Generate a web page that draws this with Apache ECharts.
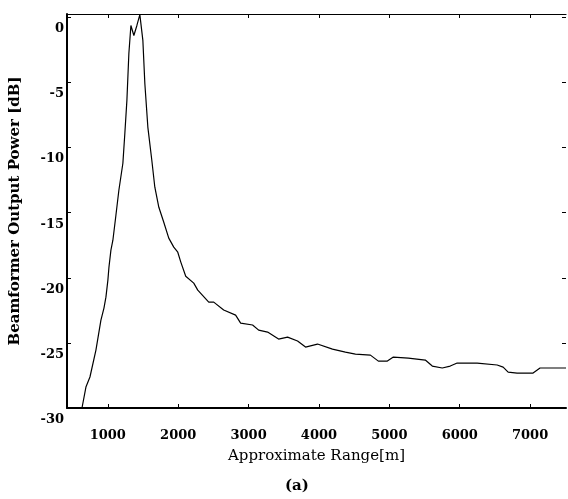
<!DOCTYPE html>
<html><head><meta charset="utf-8">
<script src="https://cdn.jsdelivr.net/npm/echarts@6/dist/echarts.min.js"></script>
<style>html,body{margin:0;padding:0;background:#fff}#c{width:568px;height:499px}</style>
</head><body><div id="c"></div>
<script>
const rangeM = [633,689,746,831,902,945,973,1001,1016,1044,1072,1115,1157,1214,1242,1271,1299,1328,1370,1413,1455,1498,1526,1569,1625,1668,1725,1795,1866,1937,1994,2037,2107,2221,2278,2434,2505,2646,2816,2887,3057,3143,3270,3426,3554,3696,3809,3979,4192,4376,4518,4731,4844,4972,5057,5270,5511,5610,5752,5865,5964,6248,6532,6617,6688,6815,7042,7141,7510];
const powerDb = [-30,-28.39,-27.62,-25.55,-23.25,-22.33,-21.49,-20.18,-19.19,-17.88,-17.12,-15.2,-13.28,-11.21,-8.91,-6.38,-2.78,-0.63,-1.4,-0.63,0.2,-1.78,-5.08,-8.45,-10.98,-13.05,-14.59,-15.74,-16.96,-17.65,-18.04,-18.8,-19.88,-20.41,-20.95,-21.87,-21.87,-22.48,-22.87,-23.48,-23.63,-24.02,-24.17,-24.71,-24.56,-24.86,-25.32,-25.09,-25.48,-25.71,-25.86,-25.94,-26.4,-26.4,-26.09,-26.17,-26.32,-26.78,-26.93,-26.78,-26.55,-26.55,-26.7,-26.86,-27.24,-27.32,-27.32,-26.93,-26.93];
const xTicks = [1000,2000,3000,4000,5000,6000,7000];
const yTicks = [-30,-25,-20,-15,-10,-5,0];

const serif = '"DejaVu Serif","Liberation Serif",serif';
const chart = echarts.init(document.getElementById('c'), null, {renderer:'canvas'});
const lineStyle = {color:'#000', width:1.2};
chart.setOption({
  animation:false,
  grid:{left:66, top:14, right:2, bottom:91},
  xAxis:[{
    type:'value', min:420, max:7510,
    axisLine:{show:true, onZero:false, lineStyle:{color:'#000', width:2}},
    axisTick:{show:true, inside:true, length:4, customValues:xTicks, lineStyle:{color:'#000'}},
    axisLabel:{customValues:xTicks, margin:21, color:'#000', fontFamily:serif, fontWeight:'bold', fontSize:13, formatter:v=>String(v)},
    splitLine:{show:false},
    name:'Approximate Range[m]', nameLocation:'middle', nameGap:41,
    nameTextStyle:{color:'#000', fontFamily:serif, fontSize:15}
  },{
    type:'value', position:'top', min:420, max:7510,
    axisLine:{show:true, onZero:false, lineStyle:{color:'#000', width:1.2}},
    axisTick:{show:true, inside:true, length:4, customValues:xTicks, lineStyle:{color:'#000'}},
    axisLabel:{show:false}, splitLine:{show:false}
  }],
  yAxis:[{
    type:'value', min:-30, max:0.25,
    axisLine:{show:true, onZero:false, lineStyle:{color:'#000', width:2}},
    axisTick:{show:true, inside:true, length:4, customValues:yTicks, lineStyle:{color:'#000'}},
    axisLabel:{customValues:yTicks, margin:3, color:'#000', fontFamily:serif, fontWeight:'bold', fontSize:13, verticalAlign:'top', padding:[5,0,0,0], formatter:v=>String(v)},
    splitLine:{show:false},
    name:'Beamformer Output Power [dB]', nameLocation:'middle', nameGap:44,
    nameTextStyle:{color:'#000', fontFamily:serif, fontWeight:'bold', fontSize:15}
  },{
    type:'value', position:'right', min:-30, max:0.25,
    axisLine:{show:false},
    axisTick:{show:true, inside:true, length:4, customValues:yTicks, lineStyle:{color:'#000'}},
    axisLabel:{show:false}, splitLine:{show:false}
  }],
  graphic:[{type:'text', left:285, top:479, style:{text:'(a)', fill:'#000', font:'bold 15px ' + serif}}],
  series:[{
    type:'line', xAxisIndex:0, yAxisIndex:0, showSymbol:false, smooth:false,
    data: rangeM.map((x,i)=>[x, powerDb[i]]), lineStyle:lineStyle
  }]
});
</script></body></html>
